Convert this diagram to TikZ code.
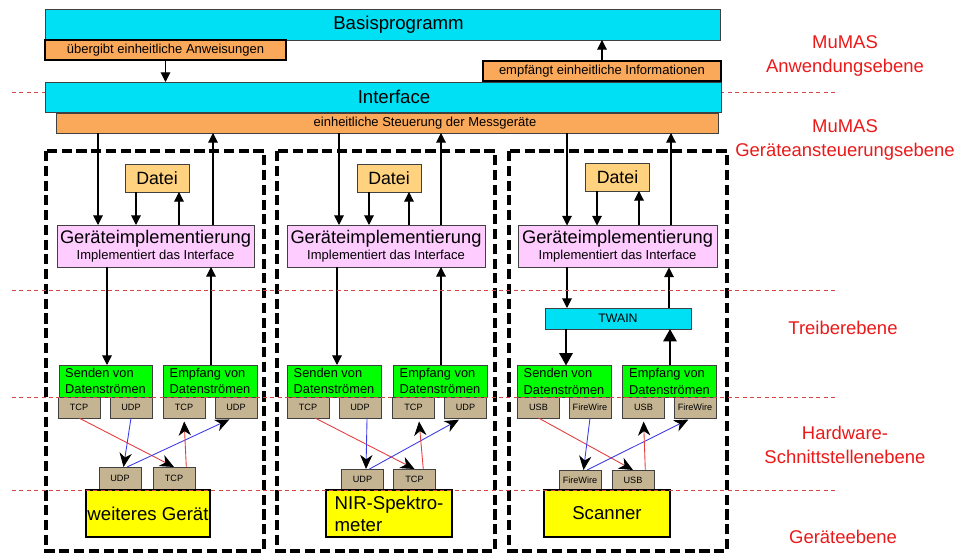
\documentclass[tikz,border=0pt]{standalone}
\usepackage{fontspec}
\setmainfont{Liberation Sans}
\usetikzlibrary{arrows.meta}

\definecolor{balkencyan}{RGB}{0,224,245}
\definecolor{notizorange}{RGB}{250,168,90}
\definecolor{dateiorange}{RGB}{255,210,128}
\definecolor{implrosa}{RGB}{255,204,255}
\definecolor{stromgruen}{RGB}{0,255,0}
\definecolor{anschlussbraun}{RGB}{196,180,146}
\definecolor{geraetgelb}{RGB}{255,255,0}
\definecolor{ebenenrot}{RGB}{235,25,25}
\definecolor{trennrot}{RGB}{215,70,70}
\definecolor{tcprot}{RGB}{230,60,60}
\definecolor{udpblau}{RGB}{60,60,230}

\tikzset{
  kasten/.style={draw=black!75, line width=0.5pt, inner sep=1pt, outer sep=0pt},
  balken/.style={kasten, fill=balkencyan, minimum height=0.6cm, font=\fontsize{10.6}{12}\selectfont},
  notiz/.style={kasten, draw=black, line width=0.8pt, fill=notizorange, minimum height=0.4cm, font=\fontsize{7.4}{9}\selectfont},
  datei/.style={kasten, fill=dateiorange, minimum width=1.28cm, minimum height=0.56cm, font=\fontsize{10.1}{12}\selectfont},
  impl/.style={kasten, fill=implrosa, minimum width=3.96cm, minimum height=0.84cm, align=center, font=\fontsize{10.4}{11}\selectfont},
  strom/.style={kasten, fill=stromgruen, minimum width=1.88cm, minimum height=0.64cm, align=left, font=\fontsize{7.3}{9.4}\selectfont},
  anschluss/.style={kasten, fill=anschlussbraun, minimum width=0.84cm, minimum height=0.42cm, font=\fontsize{5.2}{6}\selectfont},
  twain/.style={kasten, fill=balkencyan, minimum width=2.92cm, minimum height=0.42cm, font=\fontsize{7}{8}\selectfont},
  geraet/.style={kasten, draw=black, line width=1pt, fill=geraetgelb, minimum width=2.5cm, minimum height=0.94cm, align=left, font=\fontsize{10.6}{12.5}\selectfont},
  ebene/.style={text=ebenenrot, align=center, font=\fontsize{10.5}{13.6}\selectfont},
  spalte/.style={line width=1.9pt, dash pattern=on 5.8pt off 2.6pt},
  trenn/.style={draw=trennrot, line width=0.5pt, dash pattern=on 2.3pt off 1.9pt},
  pfeil/.style={-{Triangle[length=5.5pt,width=5.5pt]}, line width=0.6pt},
  dick/.style={-{Triangle[length=7pt,width=7.5pt]}, line width=1.2pt},
  rotpfeil/.style={draw=tcprot, line width=0.5pt, -{Stealth[color=black,length=8pt,width=7pt,inset=2.5pt]}},
  blaupfeil/.style={draw=udpblau, line width=0.5pt, -{Stealth[color=black,length=8pt,width=7pt,inset=2.5pt]}},
}

\begin{document}
\begin{tikzpicture}[x=0.02cm, y=-0.02cm]
	\useasboundingbox (0,0) rectangle (964,553);
	\draw[trenn] (12,92) -- (838,92);

	% MuMAS oben
	\node[balken, minimum width=13.5cm, minimum height=0.62cm] (basis) at (382.5,24.5) {\hspace*{0.64cm}Basisprogramm};
	\node[notiz, minimum width=4.82cm] (anw) at (165.5,50) {übergibt einheitliche Anweisungen};
	\node[balken, minimum width=13.52cm] (interface) at (383,97) {\hspace*{0.44cm}Interface};
	\node[notiz, minimum width=4.76cm] (info) at (602,71) {empfängt einheitliche Informationen};
	\node[notiz, draw=black!75, line width=0.5pt, minimum width=13.24cm] (steuerung) at (387,123) {\hspace*{1.52cm}einheitliche Steuerung der Messgeräte};

	\draw[pfeil] (anw) -- (anw.south |- interface.north);
	\draw[pfeil] (info) -- (info.north |- basis.south);

	% drei Geraete
	\draw[spalte] (46,151) rectangle (264,551);
	\draw[spalte] (277,151) rectangle (495,551);
	\draw[spalte] (509,151) rectangle (727,551);

	% Geraet 1
	\node[datei] (datei1) at (157,178) {Datei};
	\node[impl, minimum width=3.94cm] (impl1) at (155.5,246) {Geräteimplementierung\\[-2pt]{\fontsize{7.4}{8.5}\selectfont Implementiert das Interface}};
	\node[strom, minimum width=1.86cm] (senden1) at (105.5,381) {Senden von\\Datenströmen};
	\node[strom] (empf1) at (210,381) {Empfang von\\Datenströmen};
	\node[anschluss] (p1a) at (79,407.5) {TCP};
	\node[anschluss] (p1b) at (131,407.5) {UDP};
	\node[anschluss] (p1c) at (184,407.5) {TCP};
	\node[anschluss] (p1d) at (236,407.5) {UDP};
	\node[anschluss, minimum height=0.44cm] (b1a) at (120,478) {UDP};
	\node[anschluss, minimum height=0.44cm] (b1b) at (174,478) {TCP};
	\node[geraet, minimum width=2.48cm] (dev1) at (148,513.5) {weiteres Gerät};

	\draw[pfeil] (98,0 |- steuerung.south) -- (98,0 |- impl1.north);
	\draw[pfeil] (136,0 |- datei1.south) -- (136,0 |- impl1.north);
	\draw[pfeil] (179,0 |- impl1.north) -- (179,0 |- datei1.south);
	\draw[pfeil] (213,0 |- impl1.north) -- (213,0 |- steuerung.south);
	\draw[pfeil] (107,0 |- impl1.south) -- (107,0 |- senden1.north);
	\draw[pfeil] (211,0 |- empf1.north) -- (211,0 |- impl1.south);

	\draw[rotpfeil] (p1a.south) -- (b1b.north);
	\draw[blaupfeil] (p1b.south) -- ([xshift=2pt]b1a.north);
	\draw[blaupfeil, shorten >=2pt] ([xshift=4pt]b1a.north) -- ([xshift=-2pt]p1d.south);
	\draw[rotpfeil, shorten >=2pt] ([xshift=7pt]b1b.north) -- (p1c.south);

	% Geraet 2
	\node[datei] (datei2) at (389,178) {Datei};
	\node[impl] (impl2) at (386,246) {Geräteimplementierung\\[-2pt]{\fontsize{7.4}{8.5}\selectfont Implementiert das Interface}};
	\node[strom] (senden2) at (334,381) {Senden von\\Datenströmen};
	\node[strom] (empf2) at (440,381) {Empfang von\\Datenströmen};
	\node[anschluss] (p2a) at (308,407.5) {TCP};
	\node[anschluss] (p2b) at (360,407.5) {UDP};
	\node[anschluss] (p2c) at (413.5,407.5) {TCP};
	\node[anschluss] (p2d) at (465.5,407.5) {UDP};
	\node[anschluss] (b2a) at (362.5,479.5) {UDP};
	\node[anschluss] (b2b) at (414.5,479.5) {TCP};
	\node[geraet, minimum width=2.52cm] (dev2) at (389,513.5) {NIR-Spektro-\\meter};

	\draw[pfeil] (339,0 |- steuerung.south) -- (339,0 |- impl2.north);
	\draw[pfeil] (369,0 |- datei2.south) -- (369,0 |- impl2.north);
	\draw[pfeil] (409,0 |- impl2.north) -- (409,0 |- datei2.south);
	\draw[pfeil] (441,0 |- impl2.north) -- (441,0 |- steuerung.south);
	\draw[pfeil] (337,0 |- impl2.south) -- (337,0 |- senden2.north);
	\draw[pfeil] (441,0 |- empf2.north) -- (441,0 |- impl2.south);

	\draw[rotpfeil] ([xshift=4pt]p2a.south) -- (b2b.north);
	\draw[blaupfeil] ([xshift=4pt]p2b.south) -- ([xshift=2pt]b2a.north);
	\draw[blaupfeil, shorten >=2pt] ([xshift=4pt]b2a.north) -- ([xshift=-2pt]p2d.south);
	\draw[rotpfeil, shorten >=2pt] ([xshift=5pt]b2b.north) -- ([xshift=3pt]p2c.south);

	% Geraet 3
	\node[datei] (datei3) at (617.5,177) {Datei};
	\node[impl, minimum width=3.98cm] (impl3) at (617.5,246.5) {Geräteimplementierung\\[-2pt]{\fontsize{7.4}{8.5}\selectfont Implementiert das Interface}};
	\node[twain] (twain) at (618,318.5) {TWAIN};
	\node[strom] (senden3) at (564,381.5) {Senden von\\Datenströmen};
	\node[strom] (empf3) at (669.5,381.5) {Empfang von\\Datenströmen};
	\node[anschluss] (p3a) at (538.5,407.5) {USB};
	\node[anschluss] (p3b) at (590,407.5) {FireWire};
	\node[anschluss] (p3c) at (643.5,407.5) {USB};
	\node[anschluss] (p3d) at (695,407.5) {FireWire};
	\node[anschluss, minimum height=0.4cm] (b3a) at (580,480) {FireWire};
	\node[anschluss, minimum height=0.4cm] (b3b) at (633,480) {USB};
	\node[geraet, minimum width=2.52cm, align=center] (dev3) at (607,513.5) {Scanner};

	\draw[pfeil] (567,0 |- steuerung.south) -- (567,0 |- impl3.north);
	\draw[pfeil] (597,0 |- datei3.south) -- (597,0 |- impl3.north);
	\draw[pfeil] (639,0 |- impl3.north) -- (639,0 |- datei3.south);
	\draw[pfeil] (671,0 |- impl3.north) -- (671,0 |- steuerung.south);
	\draw[pfeil] (567,0 |- impl3.south) -- (567,0 |- twain.north);
	\draw[pfeil] (669,0 |- twain.north) -- (669,0 |- impl3.south);
	\draw[dick] (566,0 |- twain.south) -- (566,0 |- senden3.north);
	\draw[dick] (670,0 |- empf3.north) -- (670,0 |- twain.south);

	\draw[rotpfeil] (p3a.south) -- (b3b.north);
	\draw[blaupfeil] (p3b.south) -- ([xshift=2pt]b3a.north);
	\draw[blaupfeil, shorten >=2pt] ([xshift=4pt]b3a.north) -- ([xshift=-2pt]p3d.south);
	\draw[rotpfeil, shorten >=2pt] ([xshift=7pt]b3b.north) -- (p3c.south);

	% Ebenen
	\foreach \y in {290,397,490}
		\draw[trenn] (12,\y) -- (838,\y);

	\node[ebene] (anwebene) at (845,56) {MuMAS\\Anwendungsebene};
	\node[ebene] (steuerebene) at (845,140) {MuMAS\\Geräteansteuerungsebene};
	\node[ebene] (treiberebene) at (843,328) {Treiberebene};
	\node[ebene] (hwebene) at (845,444.5) {Hardware-\\Schnittstellenebene};
	\node[ebene] (geraeteebene) at (843,537) {Geräteebene};
\end{tikzpicture}
\end{document}
